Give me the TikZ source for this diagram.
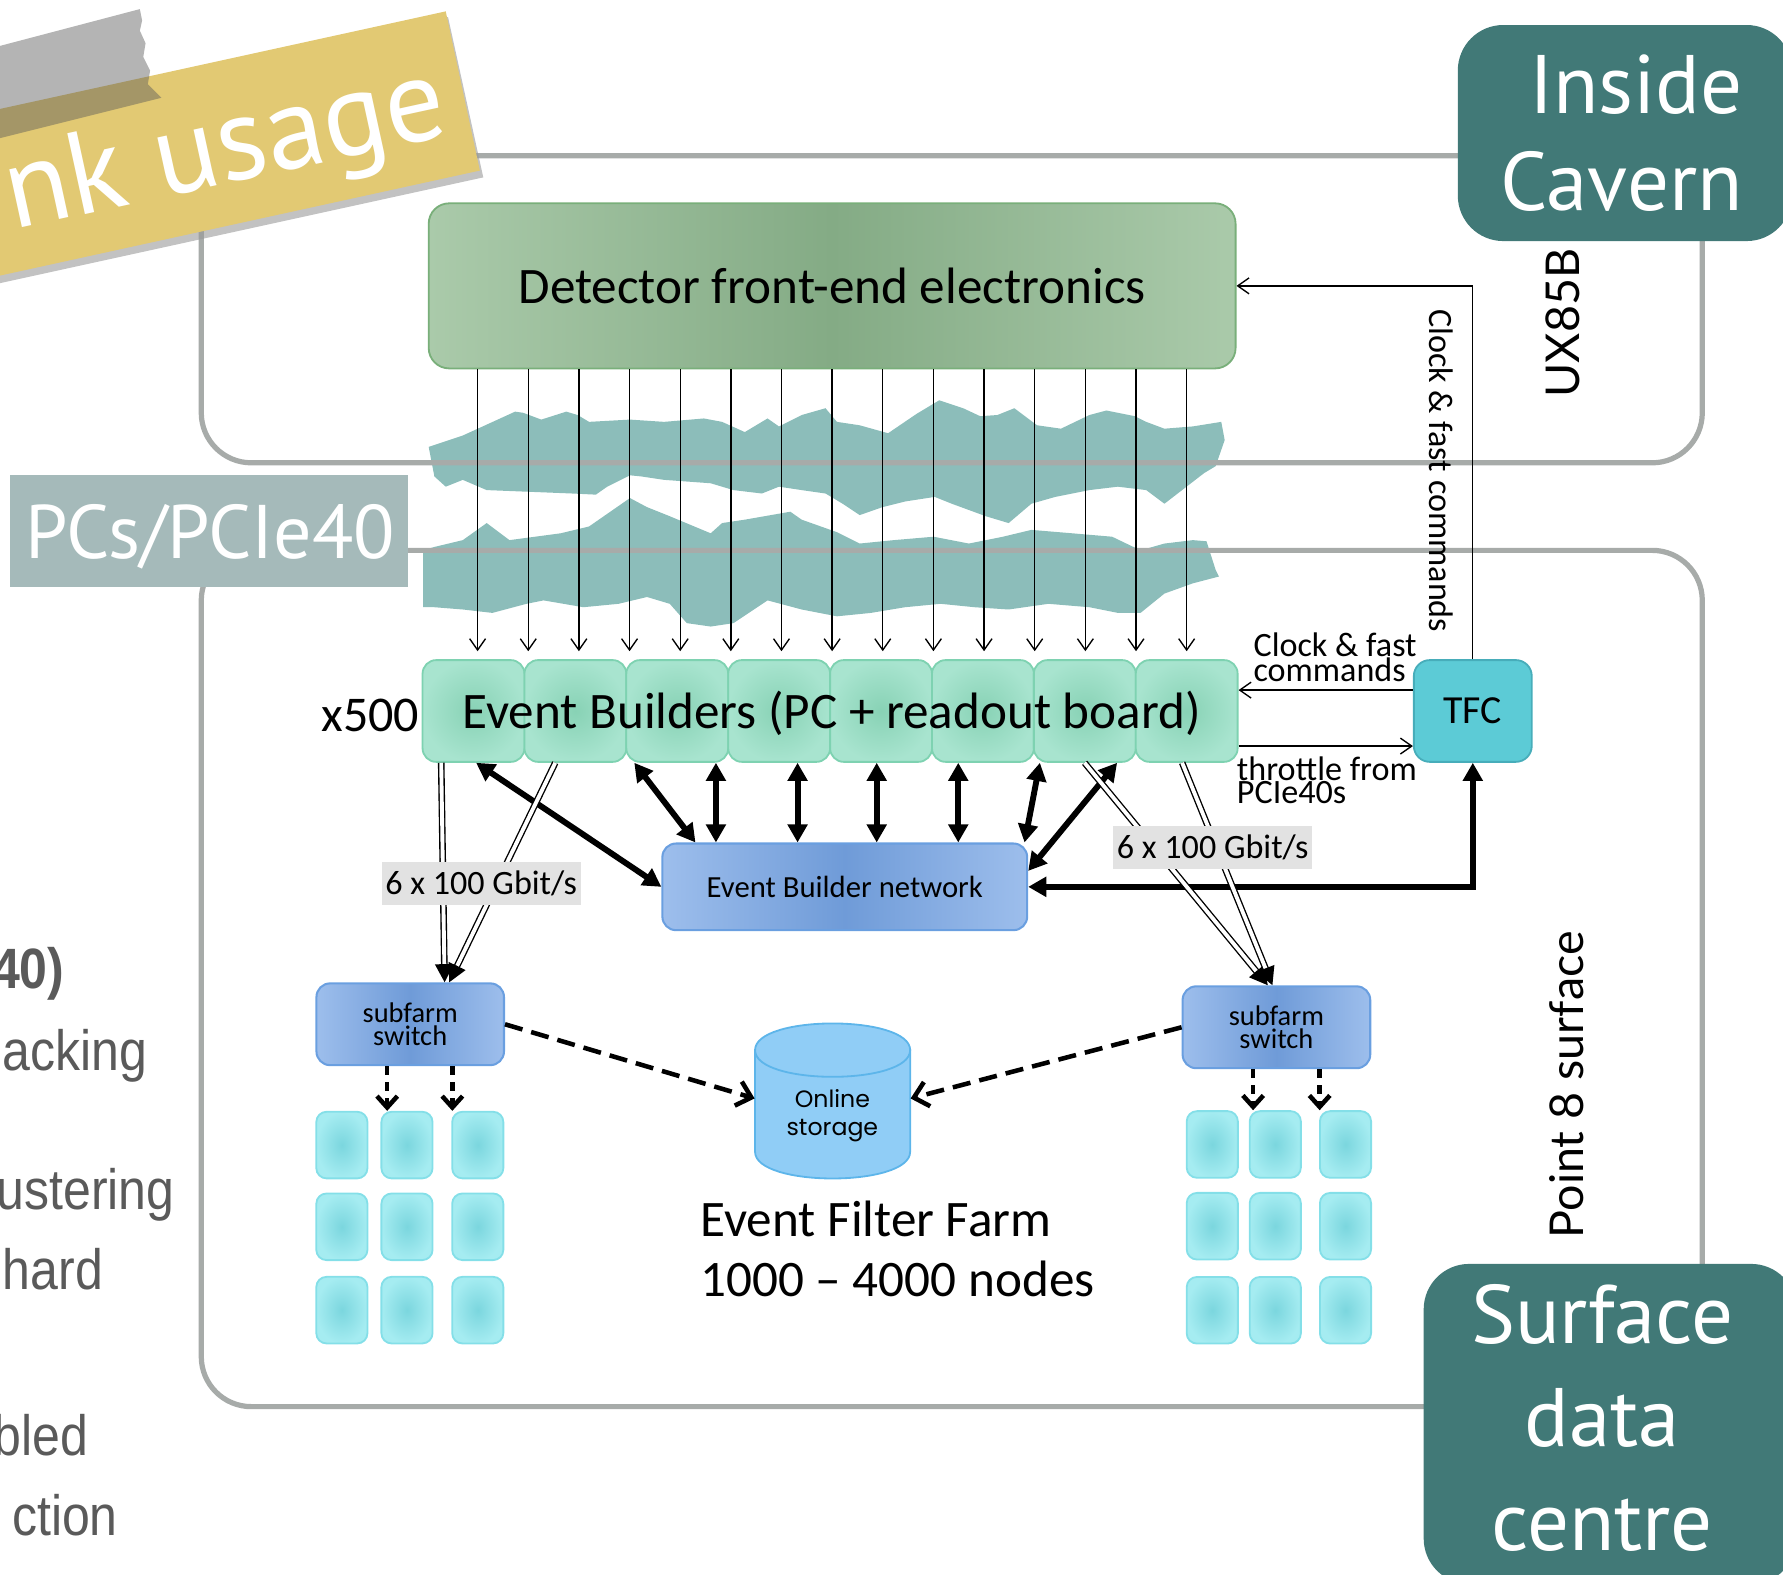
\documentclass[tikz,border=0pt]{standalone}
\usepackage{fontspec}
\setmainfont{Carlito}
\newfontfamily\dinfont{PT Sans}
\newfontfamily\slidefont[FakeStretch=0.88]{Liberation Sans}
\newfontfamily\geofont{Poppins}
\newfontfamily\humfont{Lato}
\usetikzlibrary{arrows.meta,calc}

\definecolor{bannerY}{HTML}{E2C973}
\definecolor{tealbox}{HTML}{417977}
\definecolor{pcsbox}{HTML}{A5BABA}
\definecolor{zonegray}{HTML}{A7ABA9}
\definecolor{slidegray}{HTML}{5A5A5A}
\definecolor{bandteal}{HTML}{7FB6B3}
\definecolor{detL}{HTML}{AACAAA}
\definecolor{detM}{HTML}{84AB85}
\definecolor{detB}{HTML}{79AF7A}
\definecolor{ebIn}{HTML}{88D2B5}
\definecolor{ebOut}{HTML}{A8E4CF}
\definecolor{ebB}{HTML}{7ED2B1}
\definecolor{netL}{HTML}{9DBEEC}
\definecolor{netM}{HTML}{6F9BD8}
\definecolor{netB}{HTML}{6A9FE0}
\definecolor{sqIn}{HTML}{7BD6DE}
\definecolor{sqOut}{HTML}{A5ECF1}
\definecolor{sqB}{HTML}{84DFE8}
\definecolor{tfcF}{HTML}{5CCBD6}
\definecolor{tfcB}{HTML}{47ADBA}
\definecolor{cylF}{HTML}{90CDF6}
\definecolor{cylB}{HTML}{5DB5EA}
\definecolor{lblbg}{HTML}{E2E2E2}

\newcommand\fsz[2]{\fontsize{#1pt}{#2pt}\selectfont}

\begin{document}
\begin{tikzpicture}[x=0.5pt,y=-0.5pt,
  zone/.style={draw=zonegray, line width=2.3pt, rounded corners=22pt},
  thinarr/.style={draw=black, line width=0.6pt, -{Straight Barb[length=5pt,width=7pt]}},
  thickarr/.style={draw=black, line width=2.6pt, {Triangle[length=8pt,width=8.5pt]}-{Triangle[length=8pt,width=8.5pt]}},
  dblline/.style={draw=black, line width=0.6pt, double=white, double distance=1.7pt},
  dbltip/.style={draw=black, line width=1.2pt, -{Triangle[length=8pt,width=8pt]}},
  dasharr/.style={draw=black, line width=2pt, dash pattern=on 8pt off 4pt, -{Straight Barb[length=6pt,width=11pt]}},
  shortdash/.style={draw=black, line width=2pt, dash pattern=on 4pt off 3pt, -{Straight Barb[length=5pt,width=9pt]}},
  ebbox/.style={draw=ebB, line width=0.8pt, rounded corners=6pt, inner color=ebIn, outer color=ebOut, minimum width=44.8pt, minimum height=44.75pt},
  netbox/.style={draw=netB, line width=0.9pt, rounded corners=6pt, left color=netL, right color=netL, middle color=netM},
  sqbox/.style={draw=sqB, line width=0.8pt, rounded corners=4.5pt, inner color=sqIn, outer color=sqOut, minimum width=22.5pt, minimum height=29.3pt},
  lbl/.style={fill=lblbg, inner sep=0pt, minimum width=87.5pt, minimum height=18.8pt, font=\fsz{15}{18}},
  tagtext/.style={text=white, inner sep=0pt, font=\dinfont\fsz{36.5}{42.5}},
]
\useasboundingbox (0,0) rectangle (1568,1385);
\clip (0,0) rectangle (1568,1385);

% jagged link bands between cavern and surface
\fill[bandteal, opacity=0.9] (377,393) -- (407,383) -- (453,362) -- (460,363) -- (476,369) -- (498,362) -- (508,365) -- (518,371) -- (554,369) -- (584,371) -- (619,368) -- (635,371) -- (655,380) -- (675,368) -- (685,375) -- (705,365) -- (726,359) -- (736,371) -- (756,374) -- (781,381) -- (806,364) -- (826,352) -- (847,359) -- (862,366) -- (877,365) -- (892,359) -- (912,374) -- (933,377) -- (958,365) -- (973,361) -- (998,366) -- (1008,371) -- (1024,377) -- (1049,375) -- (1074,371) -- (1077,387)
  -- (1069,410) -- (1059,416) -- (1024,443) -- (1008,431) -- (983,428) -- (958,431) -- (928,437) -- (907,443) -- (887,460) -- (867,454) -- (837,443) -- (822,437) -- (796,441) -- (776,446) -- (756,453) -- (741,443) -- (726,434) -- (705,431) -- (685,428) -- (670,434) -- (645,431) -- (625,425) -- (584,422) -- (564,419) -- (554,418) -- (534,428) -- (524,435) -- (503,434) -- (453,432) -- (428,431) -- (407,422) -- (392,428) -- (382,419) -- cycle;
\fill[bandteal, opacity=0.9] (372,484) -- (382,481) -- (407,475) -- (428,460) -- (448,475) -- (493,469) -- (518,463) -- (554,438) -- (569,446) -- (589,454) -- (625,469) -- (635,460) -- (655,457) -- (695,450) -- (705,457) -- (736,468) -- (756,478) -- (786,475) -- (821,472) -- (852,478) -- (882,472) -- (907,466) -- (943,469) -- (978,472) -- (1003,484) -- (1024,478) -- (1049,475) -- (1061,476) -- (1069,501) -- (1072,507)
  -- (1049,513) -- (1024,522) -- (1003,539) -- (983,539) -- (958,534) -- (922,531) -- (887,536) -- (857,534) -- (827,531) -- (796,534) -- (766,539) -- (736,542) -- (705,536) -- (675,528) -- (645,548) -- (625,551) -- (604,548) -- (589,531) -- (569,525) -- (544,531) -- (513,534) -- (478,528) -- (463,531) -- (433,539) -- (407,536) -- (382,534) -- (372,534) -- cycle;

% the two zones
\draw[zone] (177,137) rectangle (1497,407);
\draw[zone] (177,484) rectangle (1497,1237);

% text of the slide behind, cut at the left edge
\begin{scope}[every node/.style={anchor=base east, inner sep=0pt, text=slidegray, font=\slidefont\fsz{25}{30}}]
  \node[font=\slidefont\bfseries\fsz{25}{30}] (s1) at (57,869) {40)};
  \node (s2) at (130,941) {acking};
  \node (s3) at (154,1064) {ustering};
  \node (s4) at (91,1134) {hard};
  \node (s5) at (78,1280) {bled};
  \node (s6) at (104,1350) {ction};
\end{scope}

% banner with tape
\fill[black!40, opacity=0.6] (-104,124) -- (394,15) -- (425,156) -- (-73,265) -- cycle;
\fill[bannerY] (-106,119) -- (392,10) -- (422,150) -- (-76,259) -- cycle;
\node[rotate=12.3, anchor=base east, text=white, inner sep=0pt, font=\dinfont\fsz{52}{60}] (bannertxt) at (397.5,118) {nk usage};
\fill[gray!70!black, opacity=0.45] (-10,43) -- (123,8) -- (125,18) -- (123,27) -- (128,38) -- (126,50) -- (132,62) -- (130,74) -- (142,86) -- (-10,124) -- cycle;

% tag boxes
\node[fill=pcsbox, minimum width=175pt, minimum height=49pt, inner sep=0pt] (pcs) at (184,467) {};
\node[anchor=base, text=white, inner sep=0pt, font=\dinfont\fsz{33.4}{40}] (pcstxt) at (184.8,491) {PCs/PCIe40};
\fill[tealbox, rounded corners=20pt] (1282,22) rectangle (1576,212);
\node[tagtext, anchor=base east, align=right] (cavern) at (1533,185) {Inside\\Cavern};
\fill[tealbox, rounded corners=20pt] (1252,1111.5) rectangle (1580,1393);
\node[tagtext, anchor=base, align=center, font=\dinfont\fsz{36.5}{45.5}] (surface) at (1409,1363.3) {Surface\\data\\centre};

% zone names
\node[rotate=90, inner sep=0pt, font=\humfont\fsz{20.5}{24}] (ux) at (1374,284) {UX85B};
\node[rotate=90, inner sep=0pt, font=\humfont\fsz{20.5}{24}] (p8) at (1378,954) {Point 8 surface};

% front-end
\node[draw=detB, line width=0.8pt, rounded corners=9pt, left color=detL, right color=detL, middle color=detM,
      minimum width=354.8pt, minimum height=72.6pt, font=\fsz{22.5}{27}] (det) at (731.8,251.4) {Detector front-end electronics};

% event builders
\foreach \i in {1,...,8} {
  \node[ebbox] (eb\i) at ({371.6+89.6*(\i-0.5)},625.25) {};
}
\node[anchor=base, inner sep=0pt, font=\fsz{22.5}{27}] (ebtxt) at (731.3,640.6) {Event Builders (PC + readout board)};
\node[anchor=base east, inner sep=0pt, font=\fsz{22}{26}] (x500) at (369,643.5) {x500};

% readout links
\foreach \i in {0,...,14} {
  \pgfmathsetmacro\xx{420+44.54*\i}
  \draw[thinarr, shorten >=3.5pt] (\xx,0 |- det.south) -- (\xx,0 |- eb1.north);
}

% timing and fast control
\node[draw=tfcB, line width=0.8pt, fill=tfcF, rounded corners=7pt, minimum width=51.85pt, minimum height=44.75pt, font=\fsz{17.5}{21}] (tfc) at (1295.2,625.25) {TFC};
\draw[thinarr] (tfc.north) |- (det.east);
\draw[thinarr] (tfc.west |- 0,606.9) -- (eb8.east |- 0,606.9);
\draw[thinarr] (eb8.east |- 0,656.1) -- (tfc.west |- 0,656.1);
\node[rotate=-90, inner sep=0pt, font=\fsz{15}{18}] (clkv) at (1267,414) {Clock \& fast commands};
\node[anchor=base west, align=left, inner sep=0pt, font=\fsz{15}{11.25}] (clkh) at (1102,599.5) {Clock \& fast\\commands};
\node[anchor=base west, align=left, inner sep=0pt, font=\fsz{15}{10.3}] (thr) at (1087.4,706.6) {throttle from\\PCIe40s};

% event builder network
\node[netbox, minimum width=160.4pt, minimum height=38.1pt, font=\fsz{13.5}{16}] (net) at (742.9,779.9) {Event Builder network};
\draw[thickarr] (418.7,0 |- eb1.south) -- (net.west);
\draw[thickarr] (557.8,0 |- eb3.south) -- (611.6,0 |- net.north);
\draw[thickarr] (629.6,0 |- eb3.south) -- (629.6,0 |- net.north);
\draw[thickarr] (701.4,0 |- eb4.south) -- (701.4,0 |- net.north);
\draw[thickarr] (771,0 |- eb5.south) -- (771,0 |- net.north);
\draw[thickarr] (842.7,0 |- eb6.south) -- (842.7,0 |- net.north);
\draw[thickarr] (914.5,0 |- eb7.south) -- (901,0 |- net.north);
\draw[thickarr] ($(net.east)+(0,-14)$) -- (982.4,0 |- eb7.south);
\draw[thickarr] (net.east) -| (tfc.south);

% subfarm switches
\node[netbox, minimum width=82.45pt, minimum height=35.95pt, align=center, font=\fsz{12.5}{10}] (swL) at (360.75,900.75) {subfarm\\switch};
\node[netbox, minimum width=82.5pt, minimum height=36pt, align=center, font=\fsz{12.5}{10}] (swR) at (1122.5,903.4) {subfarm\\switch};

% 6 x 100 Gbit/s uplinks
\coordinate (dl1a) at (388,0 |- eb1.south);
\coordinate (dl1b) at (391,0 |- swL.north);
\coordinate (dl2a) at (488.3,0 |- eb2.south);
\coordinate (dl2b) at (395,0 |- swL.north);
\coordinate (dr1a) at (953.8,0 |- eb7.south);
\coordinate (dr1b) at (1115,0 |- swR.north);
\coordinate (dr2a) at (1039.6,0 |- eb8.south);
\coordinate (dr2b) at (1119,0 |- swR.north);
\foreach \a/\b in {dl1a/dl1b, dl2a/dl2b, dr1a/dr1b, dr2a/dr2b} {
  \draw[dblline, shorten >=6pt] (\a) -- (\b);
  \draw[dbltip] ($(\b)!8pt!(\a)$) -- (\b);
}
\node[lbl] (gbL) at (423.2,777) {6 x 100 Gbit/s};
\node[lbl] (gbR) at (1066.5,745.5) {6 x 100 Gbit/s};

% online storage
\fill[cylF, draw=cylB, line width=0.8pt] (664,923.5) -- (664,1012.9) .. controls (664,1044.2) and (800.4,1044.2) .. (800.4,1012.9) -- (800.4,923.5) -- cycle;
\fill[cylF, draw=cylB, line width=0.8pt] (664,923.5) .. controls (664,892.2) and (800.4,892.2) .. (800.4,923.5) .. controls (800.4,954.8) and (664,954.8) .. cycle;
\node[minimum width=68.2pt, minimum height=68.2pt, inner sep=0pt] (stor) at (732.2,966) {};
\node[align=center, inner sep=0pt, font=\geofont\fsz{10.4}{12.5}] (stortxt) at (732,981) {Online\\storage};
\draw[dasharr] (swL.east) -- (stor.west);
\draw[dasharr] (swR.west) -- (stor.east);

% farm nodes
\foreach \c/\cx in {1/300.65, 2/357.9, 3/420.15} {
  \foreach \r/\ry in {1/1007, 2/1078.85, 3/1152.15} {
    \node[sqbox] (qL\r\c) at (\cx,\ry) {};
  }
}
\foreach \c/\cx in {1/1066.1, 2/1121.5, 3/1183.25} {
  \foreach \r/\ry in {1/1006.45, 2/1078.35, 3/1152.25} {
    \node[sqbox] (qR\r\c) at (\cx,\ry) {};
  }
}
\draw[shortdash] (340.5,0 |- swL.south) -- (340.5,0 |- qL12.north);
\draw[shortdash] (397.8,0 |- swL.south) -- (397.8,0 |- qL13.north);
\draw[shortdash] (1102,0 |- swR.south) -- (1102,0 |- qR12.north);
\draw[shortdash] (1160.5,0 |- swR.south) -- (1160.5,0 |- qR13.north);

\node[anchor=base west, inner sep=0pt, font=\fsz{22.5}{27}] (eff1) at (615.7,1087.7) {Event Filter Farm};
\node[anchor=base west, inner sep=0pt, font=\fsz{22.5}{27}] (eff2) at (615.7,1140) {1000 -- 4000 nodes};
\end{tikzpicture}
\end{document}
